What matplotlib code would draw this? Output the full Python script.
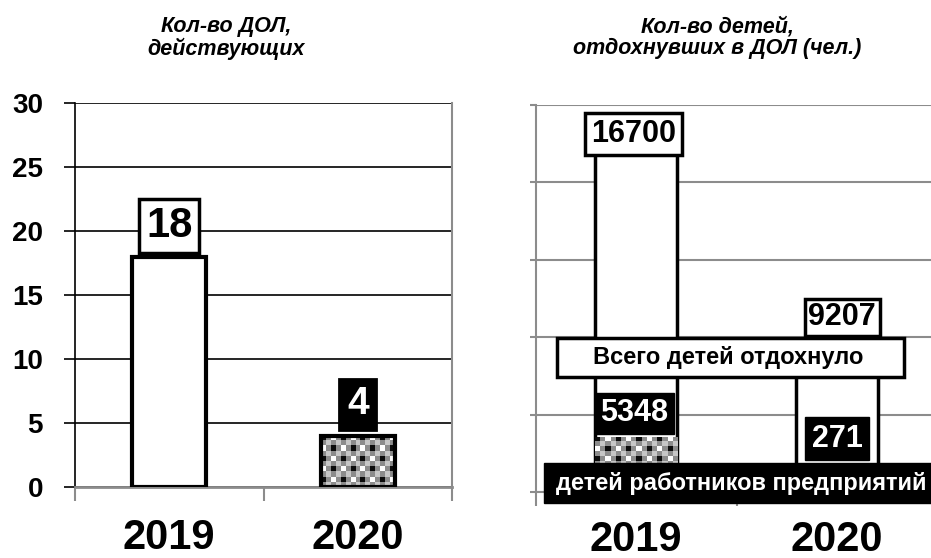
import numpy as np
import matplotlib
matplotlib.use("Agg")
import matplotlib.pyplot as plt
from matplotlib.patches import Rectangle

plt.rcParams['font.family'] = ['Liberation Sans', 'DejaVu Sans']

# ---- data ----
years = ['2019', '2020']
camps = [18, 4]
children_total = [16700, 9207]
children_employees = [5348, 271]

title_left = 'Кол-во ДОЛ,\nдействующих'
title_right = 'Кол-во детей,\nотдохнувших в ДОЛ (чел.)'
label_total = 'Всего детей отдохнуло'
label_empl = 'детей работников предприятий'

left_ticks = [0, 5, 10, 15, 20, 25, 30]

W, H = 931, 558
fig = plt.figure(figsize=(W / 100, H / 100), dpi=100)

TILE = np.array([[0.05, 0.55, 1.0, 0.55],
                 [0.55, 0.78, 0.55, 0.78],
                 [1.0, 0.55, 0.05, 0.55],
                 [0.55, 0.78, 0.55, 0.78]])


def checker(ax, bar, cell_px=5.0):
    x0, y0 = bar.get_xy()
    w, h = bar.get_width(), bar.get_height()
    p0 = ax.transData.transform((x0, y0))
    p1 = ax.transData.transform((x0 + w, y0 + h))
    nx = max(1, int(round(abs(p1[0] - p0[0]) / cell_px)))
    ny = max(1, int(round(abs(p1[1] - p0[1]) / cell_px)))
    pat = np.tile(TILE, (ny // 4 + 1, nx // 4 + 1))[:ny, :nx]
    xl, yl = ax.get_xlim(), ax.get_ylim()
    im = ax.imshow(pat, cmap='gray', vmin=0, vmax=1, extent=(x0, x0 + w, y0, y0 + h),
                   interpolation='nearest', aspect='auto', zorder=bar.get_zorder() - 0.05,
                   origin='upper')
    im.set_clip_path(bar)
    ax.set_xlim(xl)
    ax.set_ylim(yl)


# ================= LEFT CHART =================
ax1 = fig.add_axes([75 / W, 1 - 487 / H, 377 / W, 384 / H])
ax1.set_xlim(-0.5, 1.5)
ax1.set_ylim(0, 30)
ax1.set_yticks(left_ticks)
ax1.set_yticklabels([str(t) for t in left_ticks], fontsize=20, fontweight='bold')
ax1.tick_params(axis='y', direction='out', length=8, width=1.2, color='black', pad=15)
ax1.yaxis.grid(True, color='black', linewidth=1.2)
ax1.set_axisbelow(True)
ax1.set_xticks([-0.5, 0.5, 1.5])
ax1.set_xticklabels([])
ax1.tick_params(axis='x', which='major', direction='out', length=10, width=1.5, color='#8c8c8c')
ax1.set_xticks([0, 1], minor=True)
ax1.set_xticklabels(years, minor=True, fontsize=30, fontweight='bold')
ax1.tick_params(axis='x', which='minor', length=0, pad=22)
ax1.spines['top'].set_visible(False)
ax1.spines['left'].set_color('black')
ax1.spines['left'].set_linewidth(1.2)
ax1.spines['bottom'].set_color('#8c8c8c')
ax1.spines['bottom'].set_linewidth(2)
ax1.spines['right'].set_color('#8c8c8c')
ax1.spines['right'].set_linewidth(1.5)

bars1 = ax1.bar([0, 1], camps, width=0.39, color=['white', 'none'],
                edgecolor='black', linewidth=3, zorder=3)
checker(ax1, bars1[1])

ax1.text(0, 20.4, str(camps[0]), ha='center', va='center', fontsize=30, fontweight='bold',
         color='black', zorder=6,
         bbox=dict(boxstyle='square,pad=0.16', fc='white', ec='black', lw=2.5))
ax1.text(1, 6.45, str(camps[1]), ha='center', va='center', fontsize=28, fontweight='bold',
         color='white', zorder=6,
         bbox=dict(boxstyle='square,pad=0.2', fc='black', ec='black', lw=2))

fig.text(226 / W, 1 - 38 / H, title_left, ha='center', va='center', fontsize=15.5,
         fontweight='bold', fontstyle='italic', linespacing=1.0)

# ================= RIGHT CHART =================
YMIN_TOTAL, YMAX_TOTAL = 4500, 18300
YMAX_EMPL = 37600

ax2 = fig.add_axes([535.5 / W, 1 - 492 / H, 402 / W, 387 / H])
ax2.set_xlim(-0.5, 1.5)
ax2.set_ylim(YMIN_TOTAL, YMAX_TOTAL)
ax2.set_yticks(np.linspace(YMIN_TOTAL, YMAX_TOTAL, 6))
ax2.set_yticklabels([])
ax2.tick_params(axis='y', direction='out', length=4, width=1.5, color='#8c8c8c')
ax2.yaxis.grid(True, color='#8c8c8c', linewidth=1.5)
ax2.set_axisbelow(True)
ax2.set_xticks([-0.5, 0.5, 1.5])
ax2.set_xticklabels([])
ax2.tick_params(axis='x', which='major', direction='out', length=10, width=1.5, color='#8c8c8c')
ax2.set_xticks([0, 1], minor=True)
ax2.set_xticklabels(years, minor=True, fontsize=30, fontweight='bold')
ax2.tick_params(axis='x', which='minor', length=0, pad=20)
for s in ['top', 'right']:
    ax2.spines[s].set_visible(False)
ax2.spines['left'].set_color('#8c8c8c')
ax2.spines['left'].set_linewidth(1.5)
ax2.spines['bottom'].set_color('#8c8c8c')
ax2.spines['bottom'].set_linewidth(1.5)

ax2.bar([0, 1], children_total, width=0.41, color='white', edgecolor='black',
        linewidth=2.5, zorder=3)

ax3 = ax2.twinx()
ax3.set_ylim(0, YMAX_EMPL)
ax3.axis('off')
bars3 = ax3.bar([0, 1], children_employees, width=0.41, color='none', edgecolor='none',
                linewidth=0, zorder=3)
for b in bars3:
    checker(ax3, b)

# value labels (drawn on the top axes, in axes fraction of the chart)
lab_kw = dict(ha='center', va='center', fontsize=22, fontweight='bold', zorder=8,
              transform=ax2.transAxes)
ax3.text(0.244, 0.925, str(children_total[0]), color='black',
         bbox=dict(boxstyle='square,pad=0.2', fc='white', ec='black', lw=2.5), **lab_kw)
ax3.text(0.763, 0.451, str(children_total[1]), color='black',
         bbox=dict(boxstyle='square,pad=0.12', fc='white', ec='black', lw=2.5), **lab_kw)
ax3.text(0.246, 0.203, str(children_employees[0]), color='white',
         bbox=dict(boxstyle='square,pad=0.17', fc='black', ec='black', lw=1), **lab_kw)
ax3.text(0.75, 0.138, str(children_employees[1]), color='white',
         bbox=dict(boxstyle='square,pad=0.22', fc='black', ec='black', lw=1), **lab_kw)

# series name boxes
ax3.add_patch(Rectangle((0.0535, 0.297), 0.8635, 0.101, transform=ax2.transAxes,
                        fc='white', ec='black', lw=2.5, zorder=7, clip_on=False))
ax3.text(0.479, 0.3475, label_total, transform=ax2.transAxes, ha='center', va='center',
         fontsize=17, fontweight='bold', zorder=8)
ax3.add_patch(Rectangle((0.0211, -0.0284), 1.2, 0.1033, transform=ax2.transAxes,
                        fc='black', ec='black', lw=1, zorder=7, clip_on=False))
ax3.text(0.511, 0.023, label_empl, transform=ax2.transAxes, ha='center', va='center',
         fontsize=17, fontweight='bold', color='white', zorder=8, clip_on=False)

fig.text(717 / W, 1 - 38 / H, title_right, ha='center', va='center', fontsize=15.5,
         fontweight='bold', fontstyle='italic', linespacing=1.0)

fig.savefig('out.png', dpi=100, facecolor='white')
